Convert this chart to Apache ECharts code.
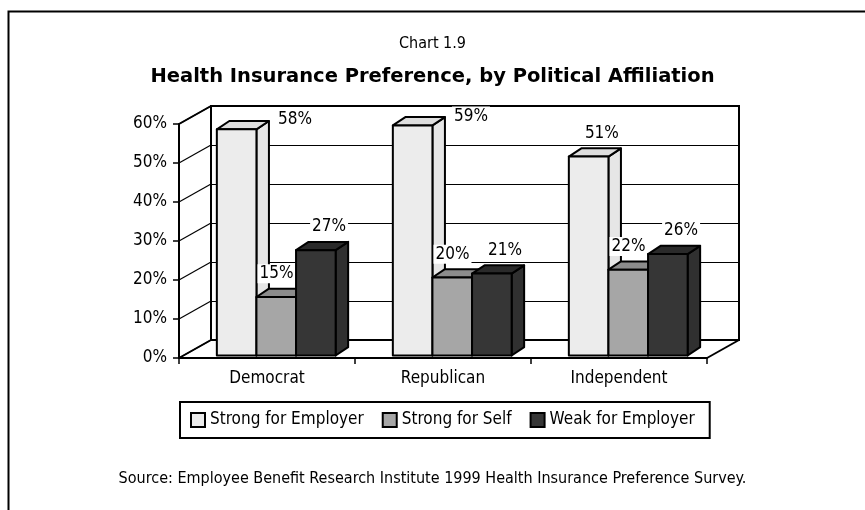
<!DOCTYPE html>
<html>
<head>
<meta charset="utf-8">
<script src="https://cdn.jsdelivr.net/npm/echarts@6/dist/echarts.min.js"></script>
<style>
  html, body { margin: 0; padding: 0; background: #fff; }
  #chart { width: 865px; height: 510px; }
</style>
</head>
<body>
<div id="chart"></div>
<script>
// Survey results (percent of respondents)
const categories = ['Democrat', 'Republican', 'Independent'];
const seriesNames = ['Strong for Employer', 'Strong for Self', 'Weak for Employer'];
const strongForEmployer = [58, 59, 51];
const strongForSelf = [15, 20, 22];
const weakForEmployer = [27, 21, 26];
const yTicks = [0, 10, 20, 30, 40, 50, 60];

const NARROW = '"DejaVu Sans Condensed", "Liberation Sans Narrow", sans-serif';

// Oblique projection used for the 3-D look
const WALL_DEPTH = [32, -18];      // back wall offset from the front plane
const BAR_DEPTH = [12.5, -8.3];    // depth of each column
const BAR_FRAC = 0.225;            // column width as share of a category band
const CLUSTER_LEFT = 0.285;        // cluster start, left of the category centre
const BAR_LIFT = -2.5;             // columns stand a little behind the front edge

// face colours per series: front, top, side
const palette = [
  { front: '#ececec', top: '#dedede', side: '#e6e6e6' },
  { front: '#a6a6a6', top: '#8c8c8c', side: '#9a9a9a' },
  { front: '#363636', top: '#2a2a2a', side: '#303030' }
];
// horizontal nudge of the value labels, per series
const labelDx = [7, -6, 7];

// keep thin lines on the pixel grid so they stay crisp
function crisp(v) { return Math.round(v) + 0.5; }

function wallRender(params, api) {
  const band = api.size([1, 0])[0];
  const first = api.coord([0, 0]);
  const last = api.coord([categories.length - 1, 0]);
  const xl = first[0] - band / 2;
  const xr = last[0] + band / 2;
  const [dx, dy] = WALL_DEPTH;
  const yTop = api.coord([0, yTicks[yTicks.length - 1]])[1];
  const yBot = first[1];
  const children = [];
  // back wall gridlines and left wall diagonals
  yTicks.forEach(function (t) {
    const y = api.coord([0, t])[1];
    const yb = crisp(y + dy);
    children.push({ type: 'line', shape: { x1: xl + dx, y1: yb, x2: xr + dx, y2: yb },
      style: { stroke: '#000', lineWidth: 1 } });
    children.push({ type: 'line', shape: { x1: xl, y1: y, x2: xl + dx, y2: y + dy },
      style: { stroke: '#000', lineWidth: 1.2 } });
  });
  const heavy = { stroke: '#000', lineWidth: 2, fill: null };
  // back wall outline
  children.push({ type: 'polyline', shape: { points: [
    [xl + dx, yBot + dy], [xl + dx, yTop + dy], [xr + dx, yTop + dy], [xr + dx, yBot + dy], [xl + dx, yBot + dy]
  ] }, style: heavy });
  // top edge of the left wall, floor side edges
  children.push({ type: 'line', shape: { x1: xl, y1: yTop, x2: xl + dx, y2: yTop + dy }, style: heavy });
  children.push({ type: 'line', shape: { x1: xl, y1: yBot, x2: xl + dx, y2: yBot + dy }, style: heavy });
  children.push({ type: 'line', shape: { x1: xr, y1: yBot, x2: xr + dx, y2: yBot + dy }, style: heavy });
  return { type: 'group', children: children };
}

function makeBarRender(s) {
  return function (params, api) {
    const cat = api.value(0);
    const v = api.value(1);
    const band = api.size([1, 0])[0];
    const base = api.coord([cat, 0]);
    const topPt = api.coord([cat, v]);
    const w = band * BAR_FRAC;
    const x0 = base[0] - band * CLUSTER_LEFT + s * w;
    const y0 = base[1] + BAR_LIFT;
    const y1 = topPt[1] + BAR_LIFT;
    const [dx, dy] = BAR_DEPTH;
    const c = palette[s];
    const edge = { stroke: '#000', lineWidth: 2, lineJoin: 'round' };
    const backTop = api.coord([0, yTicks[yTicks.length - 1]])[1] + WALL_DEPTH[1];

    let lx, ly, align;
    if (y1 + dy - 26 < backTop + 4) {
      // no room above the column: put the value beside its top
      lx = x0 + w + dx + 7; ly = y1 + dy - 1; align = 'left';
    } else {
      lx = x0 + w / 2 + dx / 2 + labelDx[s]; ly = y1 + dy / 2 - 19; align = 'center';
    }
    return {
      type: 'group',
      children: [
        { type: 'polygon', shape: { points: [[x0 + w, y1], [x0 + w + dx, y1 + dy], [x0 + w + dx, y0 + dy], [x0 + w, y0]] },
          style: Object.assign({ fill: c.side }, edge) },
        { type: 'polygon', shape: { points: [[x0, y1], [x0 + w, y1], [x0 + w + dx, y1 + dy], [x0 + dx, y1 + dy]] },
          style: Object.assign({ fill: c.top }, edge) },
        { type: 'rect', shape: { x: x0, y: y1, width: w, height: y0 - y1 },
          style: Object.assign({ fill: c.front }, edge) },
        { type: 'text', x: lx, y: ly, z2: 10,
          style: { text: v + '%', fill: '#000', font: '17px ' + NARROW,
            align: align, verticalAlign: 'middle', backgroundColor: '#fff', padding: [1, 2] } }
      ]
    };
  };
}

const valuesBySeries = [strongForEmployer, strongForSelf, weakForEmployer];

const chart = echarts.init(document.getElementById('chart'), null, { renderer: 'canvas' });
chart.setOption({
  animation: false,
  backgroundColor: '#fff',
  textStyle: { fontFamily: NARROW },
  graphic: [{
    type: 'rect', left: 6, top: 9, shape: { width: 1000, height: 1000 },
    style: { fill: null, stroke: '#000', lineWidth: 2 }, silent: true
  }],
  title: [
    { text: 'Chart 1.9', left: 'center', top: 31,
      textStyle: { fontFamily: NARROW, fontSize: 16, fontWeight: 'normal', color: '#000' } },
    { text: 'Health Insurance Preference, by Political Affiliation', left: 'center', top: 62,
      textStyle: { fontFamily: '"DejaVu Sans", sans-serif', fontSize: 19.5, fontWeight: 'bold', color: '#000' } },
    { text: 'Source: Employee Benefit Research Institute 1999 Health Insurance Preference Survey.', left: 'center', top: 466,
      textStyle: { fontFamily: NARROW, fontSize: 16, fontWeight: 'normal', color: '#000' } }
  ],
  legend: {
    data: seriesNames,
    left: 180, top: 402,
    orient: 'horizontal',
    padding: [9.5, 15, 9.5, 10],
    itemGap: 18,
    itemWidth: 14, itemHeight: 14,
    icon: 'rect',
    borderColor: '#000', borderWidth: 2,
    itemStyle: { borderColor: '#000', borderWidth: 2 },
    textStyle: { fontFamily: NARROW, fontSize: 17, color: '#000' }
  },
  grid: { left: 179, right: 158, top: 124, bottom: 152, containLabel: false },
  xAxis: {
    type: 'category', data: categories,
    axisLine: { lineStyle: { color: '#000', width: 2 } },
    axisTick: { show: true, length: 6, lineStyle: { color: '#000', width: 1.5 } },
    axisLabel: { color: '#000', fontSize: 17, fontFamily: NARROW, margin: 12 },
    splitLine: { show: false }
  },
  yAxis: {
    type: 'value', min: 0, max: 60, interval: 10,
    axisLine: { show: true, lineStyle: { color: '#000', width: 2 } },
    axisTick: { show: true, length: 6, lineStyle: { color: '#000', width: 1.5 } },
    axisLabel: { color: '#000', fontSize: 17, fontFamily: NARROW, margin: 12, formatter: '{value}%' },
    splitLine: { show: false }
  },
  series: [
    { type: 'custom', name: '_walls', silent: true, z: 1, renderItem: wallRender, data: [[0, 0]] }
  ].concat(seriesNames.map(function (name, s) {
    return {
      type: 'custom', name: name, z: 2 + s,
      itemStyle: { color: palette[s].front, borderColor: '#000', borderWidth: 2 },
      renderItem: makeBarRender(s),
      data: categories.map(function (c, i) { return [i, valuesBySeries[s][i]]; })
    };
  }))
});
</script>
</body>
</html>
